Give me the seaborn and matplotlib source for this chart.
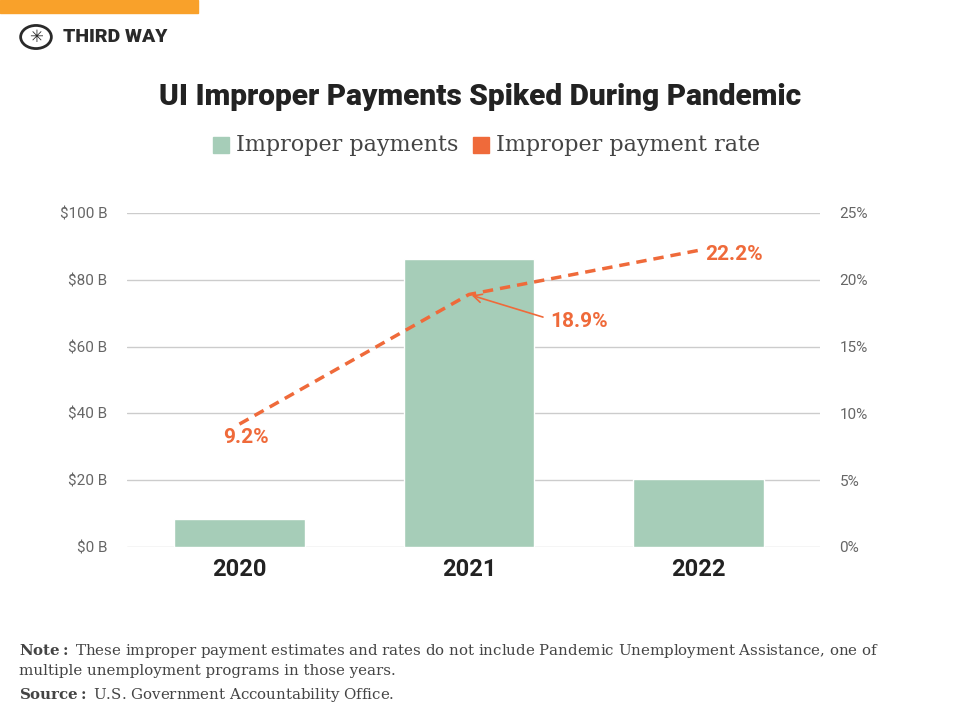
import matplotlib
matplotlib.use('Agg')
import matplotlib.pyplot as plt
import seaborn as sns
import pandas as pd
from matplotlib.patches import Rectangle, Circle

years = ['2020', '2021', '2022']
payments_b = [8.4, 86.2, 20.4]
rates_pct = [9.2, 18.9, 22.2]
usd_ticks = [0, 20, 40, 60, 80, 100]
pct_ticks = [0, 5, 10, 15, 20, 25]

GREEN = '#a6cdb8'
ORANGE = '#ef6a3a'
GRAY = '#666666'

sns.set_style('white')
plt.rcParams['font.family'] = ['Roboto', 'DejaVu Sans']
plt.rcParams['mathtext.fontset'] = 'dejavuserif'

df = pd.DataFrame({'year': years, 'payments': payments_b, 'rate': rates_pct})

fig = plt.figure(figsize=(9.6, 7.22), dpi=100)
ax = fig.add_axes([127 / 960, 1 - 547 / 722, (820 - 127) / 960, (547 - 213) / 722])

sns.barplot(data=df, x='year', y='payments', color=GREEN, width=0.57, saturation=1, ax=ax, zorder=2)
ax.set_ylim(0, 100)
ax.set_xlim(-0.49, 2.53)
ax.set_yticks(usd_ticks)
ax.set_yticklabels([f'${t} B' for t in usd_ticks], color=GRAY, fontsize=11)
ax.yaxis.grid(True, color='#cccccc', lw=1, zorder=0)
ax.set_xlabel('')
ax.set_ylabel('')
ax.tick_params(axis='x', labelsize=17, pad=8, length=0)
for lbl in ax.get_xticklabels():
    lbl.set_fontweight('bold')
    lbl.set_color('#222222')
ax.tick_params(axis='y', length=0, pad=14)
sns.despine(ax=ax, left=True, bottom=True)

ax2 = ax.twinx()
sns.lineplot(x=[0, 1, 2], y=rates_pct, color=ORANGE, lw=2.5, linestyle=(0, (3, 2)), ax=ax2)
ax2.set_ylim(0, 25)
ax2.set_yticks(pct_ticks)
ax2.set_yticklabels([f'{t}%' for t in pct_ticks], color=GRAY, fontsize=11)
ax2.tick_params(axis='y', length=0, pad=14)
for s in ax2.spines.values():
    s.set_visible(False)

ax2.annotate(f'{rates_pct[0]}%', (0, rates_pct[0]), xytext=(0.03, 8.2), color=ORANGE,
             fontsize=15, fontweight='bold', ha='center', va='center')
ax2.annotate(f'{rates_pct[1]}%', (1, rates_pct[1]), xytext=(1.48, 16.9), color=ORANGE,
             fontsize=15, fontweight='bold', ha='center', va='center',
             arrowprops=dict(arrowstyle='->', color=ORANGE, lw=1.2, relpos=(0, 0.6),
                             shrinkA=3, shrinkB=2))
ax2.annotate(f'{rates_pct[2]}%', (2, rates_pct[2]), xytext=(2.03, 21.9), color=ORANGE,
             fontsize=15, fontweight='bold', ha='left', va='center')

# header
fig.patches.append(Rectangle((0, 1 - 13 / 722), 198 / 960, 13 / 722, transform=fig.transFigure,
                             color='#f9a12a'))
fig.patches.append(Circle((36 / 960, 1 - 37 / 722), 0.016, transform=fig.transFigure,
                          fill=False, ec='#2a2a2a', lw=2))
fig.text(36 / 960, 1 - 37 / 722, '✳', fontsize=12, ha='center', va='center', color='#2a2a2a',
         family='DejaVu Sans')
fig.text(63 / 960, 1 - 37 / 722, 'THIRD WAY', fontsize=14, fontweight='black', va='center', color='#2a2a2a')

fig.text(0.5, 1 - 97 / 722, 'UI Improper Payments Spiked During Pandemic', fontsize=21.5,
         fontweight='black', ha='center', va='center', color='#222222')

# legend
fig.patches.append(Rectangle((213 / 960, 1 - 153 / 722), 16 / 960, 16 / 722, transform=fig.transFigure, color=GREEN))
fig.text(236 / 960, 1 - 145 / 722, 'Improper payments', fontsize=16, va='center', color='#444444', family='serif')
fig.patches.append(Rectangle((473 / 960, 1 - 153 / 722), 16 / 960, 16 / 722, transform=fig.transFigure, color=ORANGE))
fig.text(496 / 960, 1 - 145 / 722, 'Improper payment rate', fontsize=16, va='center', color='#444444', family='serif')

# footer
fig.text(19 / 960, 1 - 651 / 722, r'$\bf{Note:}$ These improper payment estimates and rates do not include Pandemic Unemployment Assistance, one of',
         fontsize=10.8, va='center', color='#444444', family='serif')
fig.text(19 / 960, 1 - 671 / 722, 'multiple unemployment programs in those years.',
         fontsize=10.8, va='center', color='#444444', family='serif')
fig.text(19 / 960, 1 - 695 / 722, r'$\bf{Source:}$ U.S. Government Accountability Office.',
         fontsize=10.8, va='center', color='#444444', family='serif')

fig.savefig('out.png', dpi=100)
